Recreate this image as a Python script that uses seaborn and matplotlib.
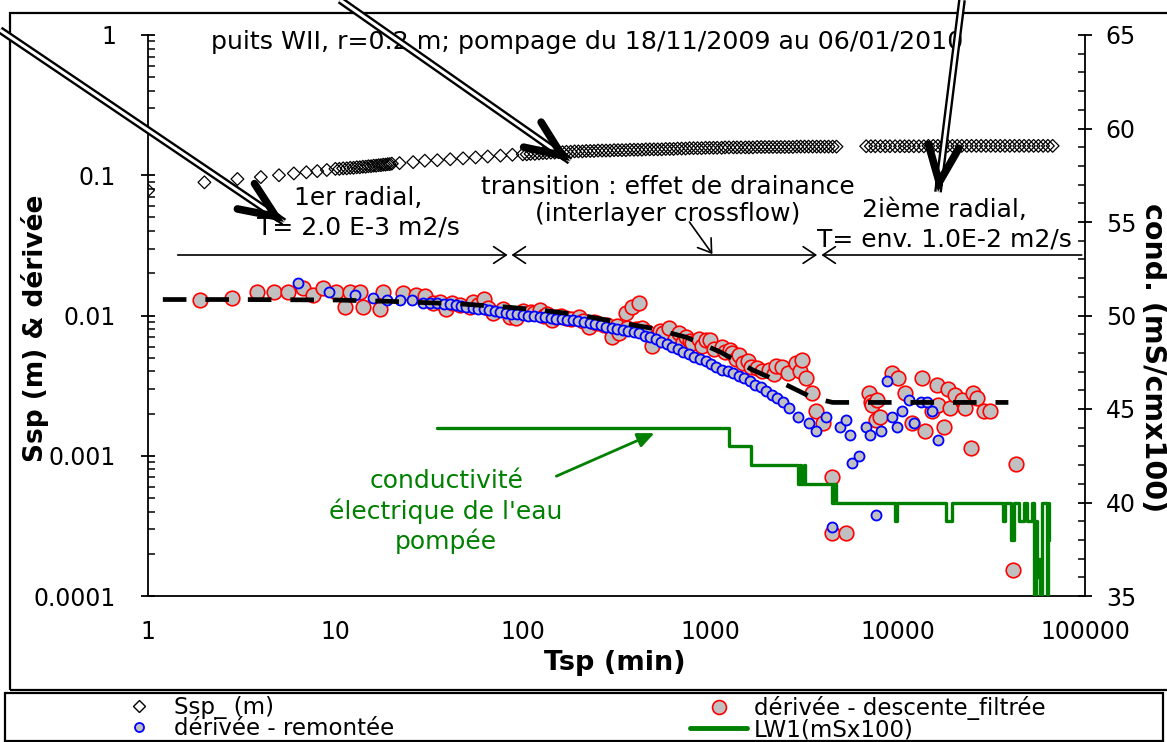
import numpy as np
import matplotlib
matplotlib.use("Agg")
import matplotlib.pyplot as plt
import matplotlib.patheffects as pe
from matplotlib.patches import Rectangle, FancyArrowPatch
from matplotlib.lines import Line2D
from matplotlib.ticker import FixedLocator, FixedFormatter, MultipleLocator, LogLocator, NullFormatter
import seaborn as sns

# ---------------- data ----------------
# drawdown Ssp (m) versus time (min)
ssp_t = [1, 2, 3, 4, 5, 6, 7, 8, 9,
         10, 10.5, 11, 11.5, 12, 12.5, 13, 13.5, 14, 14.5, 15, 15.5, 16, 16.5, 17, 17.5,
         18, 18.5, 19, 19.5, 20,
         22, 26, 30, 35, 41, 48, 56, 65, 76, 88,
         100, 105, 110, 116, 122, 128, 134, 141, 148, 155, 163, 171, 180, 189, 198, 208,
         218, 229, 240, 252, 265, 278, 292, 307, 322, 338, 355, 373, 392, 411, 432, 453,
         476, 500, 525, 551, 579, 608, 638, 670, 704, 739, 776, 815, 856, 899, 944, 991,
         1040, 1090, 1150, 1200, 1260, 1330, 1390, 1460, 1540, 1610, 1690, 1780, 1870,
         1960, 2060, 2160, 2270, 2380, 2500, 2630, 2760, 2900, 3040, 3190, 3350, 3520,
         3700, 3880, 4080, 4280, 4500, 4720,
         6800, 7200, 7600, 8100, 8600, 9100, 9700, 10300, 10900, 11500, 12200, 13000,
         13800, 14600, 15500, 16400, 17400, 18500, 19600, 20800, 22000, 23400, 24800,
         26300, 27900, 29600, 31400, 33300, 35300, 37400, 39700, 42100, 44600, 47300,
         50200, 53200, 56400, 59800, 63400, 67200]
ssp_v = [0.078, 0.089, 0.094, 0.097, 0.100, 0.103, 0.105, 0.107, 0.109,
         0.111, 0.111, 0.112, 0.112, 0.113, 0.113, 0.114, 0.114, 0.115, 0.115, 0.116, 0.116,
         0.117, 0.117, 0.118, 0.118, 0.119, 0.119, 0.120, 0.120, 0.121,
         0.122, 0.124, 0.127, 0.128, 0.130, 0.132, 0.134, 0.136, 0.138, 0.140,
         0.141, 0.141, 0.142, 0.142, 0.143, 0.144, 0.144, 0.145, 0.145, 0.146, 0.146,
         0.147, 0.147, 0.148, 0.148, 0.148, 0.149, 0.149, 0.149, 0.150, 0.150, 0.150,
         0.150, 0.151, 0.151, 0.151, 0.151, 0.152, 0.152, 0.152, 0.152, 0.153, 0.153,
         0.153, 0.153, 0.153, 0.154, 0.154, 0.154, 0.155, 0.155, 0.155, 0.156, 0.156,
         0.156, 0.156, 0.157, 0.157, 0.157, 0.157, 0.157, 0.158, 0.158, 0.158, 0.158,
         0.158, 0.158, 0.158, 0.158, 0.159, 0.159, 0.159, 0.159, 0.159, 0.159, 0.159,
         0.159, 0.159, 0.159, 0.160, 0.160, 0.160, 0.160, 0.160, 0.160, 0.160, 0.160,
         0.160, 0.160, 0.160,
         0.161, 0.161, 0.161, 0.161, 0.161, 0.161, 0.161, 0.161, 0.161, 0.161, 0.161,
         0.161, 0.161, 0.162, 0.162, 0.162, 0.162, 0.162, 0.162, 0.162, 0.162, 0.162,
         0.162, 0.162, 0.162, 0.162, 0.162, 0.162, 0.162, 0.162, 0.162, 0.162, 0.162,
         0.162, 0.162, 0.162, 0.162, 0.162, 0.162, 0.162]

# filtered drawdown derivative
desc_t = [1.9, 2.8, 3.8, 4.7, 5.6, 6.7, 7.6, 8.6, 10.1, 11.2, 11.9, 13.5, 14.0, 17.2,
          17.9, 22.9, 27, 30, 33, 36, 39, 42, 46, 52, 54, 58, 62, 65, 69, 78, 85, 92,
          100, 110, 115, 123, 130, 135, 144, 150, 160, 171, 180, 200, 210, 226, 240,
          248, 270, 280, 300, 320, 327, 357, 360, 384, 400, 418, 433, 460, 490, 520,
          540, 560, 600, 650, 685, 720, 745, 780, 800, 870, 900, 950, 995, 1050, 1150,
          1200, 1270, 1310, 1380, 1430, 1500, 1600, 1650, 1770, 1900, 2070, 2200, 2250,
          2430, 2600, 2870, 3000, 3100, 3250, 3500, 3690, 4000, 4490, 4490, 5300,
          7040, 7200, 7300, 7700, 7800, 8100, 9300, 10000, 11000, 12000, 13500, 14000,
          15300, 16200, 16500, 17700, 18600, 19000, 20300, 22000, 23000, 24500, 25400,
          26600, 29000, 31000, 41500, 43000]
desc_v = [0.0130, 0.0134, 0.0148, 0.0148, 0.0148, 0.0156, 0.0140, 0.0156, 0.0148,
          0.0115, 0.0148, 0.0148, 0.0115, 0.0112, 0.0148, 0.0144, 0.0140, 0.0137,
          0.0122, 0.0125, 0.0112, 0.0122, 0.0119, 0.0115, 0.0124, 0.0118, 0.0132,
          0.0113, 0.0104, 0.0112, 0.0098, 0.0096, 0.0108, 0.0106, 0.0104, 0.0109,
          0.0100, 0.0103, 0.0093, 0.0097, 0.0100, 0.0096, 0.0094, 0.0098, 0.0092,
          0.0083, 0.0090, 0.0089, 0.0085, 0.0086, 0.0070, 0.0084, 0.0075, 0.0104,
          0.0082, 0.0115, 0.0080, 0.0122, 0.0081, 0.0076, 0.0061, 0.0071, 0.0078,
          0.0075, 0.0082, 0.0068, 0.0075, 0.0065, 0.0070, 0.0066, 0.0064, 0.0068,
          0.0061, 0.0067, 0.0067, 0.0058, 0.0060, 0.0055, 0.0057, 0.0054, 0.0049,
          0.0052, 0.0046, 0.0047, 0.0043, 0.0042, 0.0040, 0.0041, 0.0038, 0.0044,
          0.0043, 0.0039, 0.0046, 0.0040, 0.0048, 0.0036, 0.0028, 0.0021, 0.0017,
          0.00070, 0.00028, 0.00028,
          0.0028, 0.0024, 0.0023, 0.0018, 0.0025, 0.0019, 0.0039, 0.0036, 0.0028,
          0.0017, 0.0036, 0.0015, 0.0021, 0.0032, 0.0023, 0.0016, 0.0030, 0.0022,
          0.0027, 0.0025, 0.0022, 0.00113, 0.0028, 0.0026, 0.0021, 0.0021,
          0.000152, 0.00088]

# recovery derivative
rem_t = [6.3, 9.3, 12.7, 15.8, 18.8, 22, 25.5, 29.2, 32, 35, 38, 41, 44, 47, 50, 54,
         58, 62, 66, 71, 76, 81, 87, 93, 100, 107, 115, 123, 132, 141, 151, 162, 173,
         185, 198, 212, 227, 243, 260, 278, 298, 319, 341, 365, 391, 418, 447, 479,
         512, 548, 587, 628, 672, 719, 770, 824, 882, 944, 1010, 1080, 1160, 1240,
         1330, 1420, 1520, 1630, 1740, 1860, 1990, 2130, 2280, 2440, 2640, 2950, 3370,
         3680, 4150, 4490, 4900, 5300, 5550, 5700, 6200, 6800, 7100, 7700, 8200, 8800,
         9300, 9900, 10500, 11500, 12300, 13400, 14300, 15300, 16500]
rem_v = [0.0171, 0.0148, 0.0140, 0.0133, 0.0130, 0.0130, 0.0129, 0.0123, 0.0123,
         0.0122, 0.0121, 0.0120, 0.0119, 0.0117, 0.0115, 0.0113, 0.0112, 0.0111,
         0.0110, 0.0108, 0.0106, 0.0104, 0.0103, 0.0102, 0.0101, 0.0100, 0.0099,
         0.0098, 0.0097, 0.0096, 0.0095, 0.0094, 0.0093, 0.0093, 0.0092, 0.0090,
         0.0089, 0.0087, 0.0085, 0.0083, 0.0082, 0.0080, 0.0079, 0.0077, 0.0076,
         0.0075, 0.0072, 0.0070, 0.0068, 0.0065, 0.0063, 0.0060, 0.0058, 0.0055,
         0.0053, 0.0051, 0.0049, 0.0047, 0.0045, 0.0043, 0.0041, 0.0040, 0.0039,
         0.0037, 0.0036, 0.0034, 0.0032, 0.0031, 0.0029, 0.0027, 0.0026, 0.0024,
         0.0022, 0.0019, 0.0017, 0.0015, 0.0019, 0.00031, 0.0016, 0.0018, 0.0014,
         0.00089, 0.0010, 0.0016, 0.0014, 0.00038, 0.0015, 0.0034, 0.0019, 0.0016,
         0.0021, 0.0025, 0.0017, 0.0024, 0.0024, 0.0021, 0.0013]

# interpreted model derivative (dashed)
model_t = [1.2, 3, 10, 20, 46, 81, 127, 200, 315, 490, 745, 1130, 1680, 2550, 3500,
           4500, 6000, 39000]
model_v = [0.0130, 0.0130, 0.0129, 0.0126, 0.0121, 0.0115, 0.0109, 0.0101, 0.0090,
           0.0081, 0.0070, 0.0055, 0.0041, 0.0032, 0.0026, 0.0024, 0.0024, 0.0024]

# electrical conductivity of the pumped water (mS/cm x 100), step record
lw1_t = [35, 1266, 1660, 2950, 3000, 3060, 3150, 3200, 4450, 4500, 4550, 4600, 4700,
         9700, 9950, 18200, 19500, 36500, 37500, 40500, 41800, 44400, 47300, 49200,
         52400, 53500, 54500, 55500, 56500, 57500, 59000, 62700, 63500, 64500]
lw1_v = [44, 43, 42, 41, 42, 41, 42, 41, 40, 41, 40, 41, 40,
         39, 40, 39, 40, 39, 40, 38, 40, 39, 40, 39,
         40, 35, 39, 36, 37, 35, 40, 35, 38, 40]

x_ticks = [1, 10, 100, 1000, 10000, 100000]
x_tick_labels = ["1", "10", "100", "1000", "10000", "100000"]
y_ticks = [0.0001, 0.001, 0.01, 0.1, 1]
y_tick_labels = ["0.0001", "0.001", "0.01", "0.1", "1"]
cond_ticks = [35, 40, 45, 50, 55, 60, 65]

# ---------------- style ----------------
sns.set_style("white")
plt.rcParams["font.family"] = ["DejaVu Sans"]
plt.rcParams["text.color"] = "black"
plt.rcParams["axes.labelcolor"] = "black"
plt.rcParams["xtick.color"] = "black"
plt.rcParams["ytick.color"] = "black"
plt.rcParams["axes.linewidth"] = 1.3

W, H = 1167, 742
fig = plt.figure(figsize=(W / 100, H / 100), dpi=100)
FS = 18      # annotation text
TS = 17      # tick labels


def fpx(x, y):
    """figure fraction from pixel position measured from the top-left corner"""
    return (x / W, 1 - y / H)


ax = fig.add_axes([148 / W, 1 - 596 / H, 937 / W, 561 / H])
ax.set_xscale("log")
ax.set_yscale("log")
ax.set_xlim(1, 100000)
ax.set_ylim(1e-4, 1)

GRAY = "#c0c0c0"
sns.scatterplot(x=desc_t, y=desc_v, ax=ax, marker="o", s=110, color=GRAY,
                edgecolor="#ff0000", linewidth=1.2, zorder=3)
sns.scatterplot(x=rem_t, y=rem_v, ax=ax, marker="o", s=52, color=GRAY,
                edgecolor="#0000ff", linewidth=1.3, zorder=4)
sns.lineplot(x=model_t, y=model_v, ax=ax, color="black", lw=3.4, sort=False,
             zorder=5).lines[-1].set_dashes((5, 4))
sns.scatterplot(x=ssp_t, y=ssp_v, ax=ax, marker="D", s=42, facecolor="none",
                edgecolor="black", linewidth=0.9, zorder=6)

for s in ("top", "right"):
    ax.spines[s].set_visible(False)
for s in ("left", "bottom"):
    ax.spines[s].set_color("black")

ax.xaxis.set_major_locator(FixedLocator(x_ticks))
ax.xaxis.set_major_formatter(FixedFormatter(x_tick_labels))
ax.xaxis.set_minor_locator(LogLocator(base=10, subs=np.arange(2, 10)))
ax.xaxis.set_minor_formatter(NullFormatter())
ax.yaxis.set_major_locator(FixedLocator(y_ticks))
ax.yaxis.set_major_formatter(FixedFormatter(y_tick_labels))
ax.yaxis.set_minor_locator(LogLocator(base=10, subs=np.arange(2, 10)))
ax.yaxis.set_minor_formatter(NullFormatter())
ax.tick_params(axis="both", which="major", direction="inout", length=10, width=1.3,
               labelsize=TS, colors="black")
ax.tick_params(axis="x", which="major", pad=12)
ax.tick_params(axis="y", which="major", pad=18)
ax.tick_params(axis="both", which="minor", direction="in", length=5, width=1.1)
ax.set_xlabel("Tsp (min)", fontsize=19.5, fontweight="bold", color="black")
ax.set_ylabel("Ssp (m) & dérivée", fontsize=19, fontweight="bold", color="black")
ax.xaxis.label.set_va("center")
ax.yaxis.label.set_va("center")
ax.xaxis.set_label_coords(0.498, (596 - 663) / 561)
ax.yaxis.set_label_coords((35 - 148) / 937, (596 - 328) / 561)
ax.set_facecolor("white")

# conductivity on the right axis
ax2 = ax.twinx()
sns.lineplot(x=lw1_t, y=lw1_v, ax=ax2, color="#008000", lw=2.4, sort=False,
             drawstyle="steps-post")
ax2.set_ylim(35, 65)
ax2.set_xlim(1, 100000)
ax2.yaxis.set_major_locator(FixedLocator(cond_ticks))
ax2.yaxis.set_minor_locator(MultipleLocator(1))
for s in ("top", "left", "bottom"):
    ax2.spines[s].set_visible(False)
ax2.spines["right"].set_color("black")
ax2.tick_params(axis="y", which="major", direction="inout", length=10, width=1.3,
                labelsize=TS, pad=10, colors="black")
ax2.tick_params(axis="y", which="minor", direction="in", length=5, width=1.1)
ax2.set_ylabel("cond. (mS/cmx100)", fontsize=20.5, fontweight="bold", rotation=270,
               color="black")
ax2.yaxis.label.set_va("center")
ax2.yaxis.set_label_coords((1153 - 148) / 937, (596 - 358) / 561)

# ---------------- annotations ----------------
ax.text(0.4685, 0.9875, "puits WII, r=0.2 m; pompage du 18/11/2009 au 06/01/2010",
        transform=ax.transAxes, ha="center", va="center", fontsize=18.2)
ax.text(13.2, 0.054, "1er radial,\nT= 2.0 E-3 m2/s", ha="center", va="center",
        fontsize=FS, multialignment="center", linespacing=1.3)
ax.text(591, 0.066, "transition : effet de drainance\n(interlayer crossflow)",
        ha="center", va="center", fontsize=FS, multialignment="center", linespacing=1.12)
ax.text(17700, 0.0445, "2ième radial,\nT= env. 1.0E-2 m2/s", ha="center",
        va="center", fontsize=FS, multialignment="center", linespacing=1.3)
ax.text(39, 0.00040, "conductivité\nélectrique de l'eau\npompée", ha="center",
        va="center", fontsize=FS, color="#008000", multialignment="center",
        linespacing=1.24)

thin = dict(lw=1.2, color="black", shrinkA=0, shrinkB=0, mutation_scale=20)
ax.annotate("", xy=(83, 0.027), xytext=(1.44, 0.027),
            arrowprops=dict(arrowstyle="->, head_length=0.45, head_width=0.3", **thin))
ax.annotate("", xy=(3720, 0.027), xytext=(87, 0.027),
            arrowprops=dict(arrowstyle="<->, head_length=0.45, head_width=0.3", **thin))
ax.annotate("", xy=(3920, 0.027), xytext=(96000, 0.027),
            arrowprops=dict(arrowstyle="->, head_length=0.45, head_width=0.3", **thin))
ax.annotate("", xy=(1028, 0.0274), xytext=(775, 0.0464),
            arrowprops=dict(arrowstyle="->, head_length=0.45, head_width=0.3", **thin))
ax.annotate("", xy=(504, 0.00145), xytext=(151, 0.000715),
            arrowprops=dict(arrowstyle="-|>, head_length=0.5, head_width=0.22",
                            lw=2, color="#008000", shrinkA=0, shrinkB=0,
                            mutation_scale=20))


def double_arrow(tail, tip):
    (x0, y0), (x1, y1) = fpx(*tail), fpx(*tip)
    line = Line2D([x0, x1], [y0, y1], transform=fig.transFigure, color="white",
                  lw=2.2, solid_capstyle="butt", zorder=20,
                  path_effects=[pe.Stroke(linewidth=5.6, foreground="black"),
                                pe.Normal()])
    fig.add_artist(line)
    dx, dy = tip[0] - tail[0], tip[1] - tail[1]
    n = np.hypot(dx, dy)
    back = fpx(tip[0] - 8 * dx / n, tip[1] - 8 * dy / n)
    fig.add_artist(FancyArrowPatch(
        back, (x1, y1), transform=fig.transFigure,
        arrowstyle="->, head_length=1.3, head_width=0.55", lw=5.5, color="black",
        mutation_scale=20, shrinkA=0, shrinkB=0, zorder=21,
        joinstyle="miter", capstyle="round"))


double_arrow((0, 30), (284, 222))
double_arrow((340, 0), (570, 161))
double_arrow((962, 0), (938, 192))

# outer frame of the chart area and legend box
fig.add_artist(Rectangle(fpx(10, 690), 1.2, (690 - 13) / H, transform=fig.transFigure,
                         fill=False, lw=1.6, edgecolor="black", zorder=0))
fig.add_artist(Rectangle(fpx(5, 741), (1163 - 5) / W, (741 - 693) / H,
                         transform=fig.transFigure, fill=False, lw=1.6,
                         edgecolor="black", zorder=0))

h_ssp = Line2D([], [], ls="none", marker="D", ms=6, mfc="none", mec="black", mew=1)
h_rem = Line2D([], [], ls="none", marker="o", ms=6.5, mfc=GRAY, mec="#0000ff", mew=1.3)
h_desc = Line2D([], [], ls="none", marker="o", ms=10, mfc=GRAY, mec="#ff0000", mew=1.2)
h_lw1 = Line2D([], [], color="#008000", lw=3.5)
leg_kw = dict(frameon=False, fontsize=16.5, handlelength=2.5, handletextpad=0.3,
              labelspacing=-0.08, borderpad=0, borderaxespad=0, loc="upper left")
fig.legend(handles=[h_ssp, h_rem], labels=["Ssp_ (m)", "dérivée - remontée"],
           bbox_to_anchor=fpx(110, 696), labelcolor="black", **leg_kw)
fig.legend(handles=[h_desc, h_lw1],
           labels=["dérivée - descente_filtrée", "LW1(mSx100)"],
           bbox_to_anchor=fpx(690, 696), labelcolor="black", **leg_kw)

fig.savefig("out.png", dpi=100, facecolor="white")
